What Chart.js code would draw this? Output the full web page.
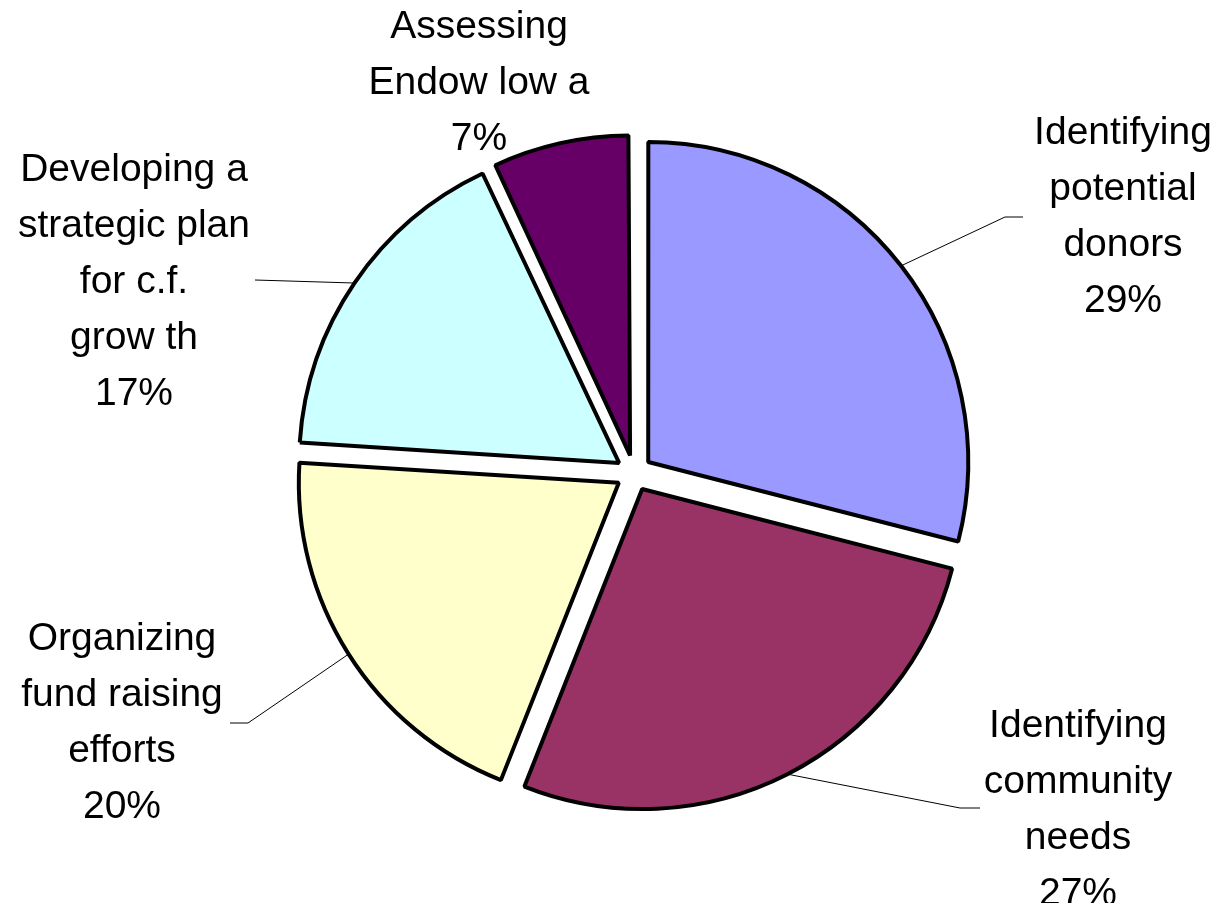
<!DOCTYPE html>
<html>
<head>
<meta charset="utf-8">
<script src="https://cdn.jsdelivr.net/npm/chart.js@4.4.1/dist/chart.umd.min.js"></script>
<style>
  html, body { margin: 0; padding: 0; background: #fff; }
  #wrap { width: 1215px; height: 903px; position: relative; }
</style>
</head>
<body>
<div id="wrap"><canvas id="chart-pie"></canvas></div>
<script>
// Slices, clockwise from 12 o'clock
const categories = [
  "Identifying potential donors",
  "Identifying community needs",
  "Organizing fund raising efforts",
  "Developing a strategic plan for c.f. growth",
  "Assessing Endow low a",
];
const shares = [29, 27, 20, 17, 7];
const sliceColors = ["#9999FF", "#993366", "#FFFFCC", "#CCFFFF", "#660066"];

// Label text as drawn on the chart (the percentage line is added from shares)
const labelLines = [
  ["Identifying", "potential", "donors"],
  ["Identifying", "community", "needs"],
  ["Organizing", "fund raising", "efforts"],
  ["Developing a", "strategic plan", "for c.f.", "grow th"],
  ["Assessing", "Endow low a"],
];

// Label placement: centre x, baseline of the last line, leader elbow + end (null = no leader)
const labelLayout = [
  { x: 1123, y: 312, leader: [[1005, 217], [1023, 217]] },
  { x: 1078, y: 905, leader: [[960, 808], [980, 808]] },
  { x: 122, y: 818, leader: [[248, 723], [230, 723]] },
  { x: 134, y: 405, leader: [[255, 280]] },
  { x: 479, y: 150, leader: null },
];

const LINE_GAP = 56;
const EXPLODE = 72; // Chart.js moves a slice by offset / 4

// v4 grows narrow slices when offset is set; keep every slice on the same radius
const equalRadius = {
  id: "equalRadius",
  beforeDatasetsDraw(chart) {
    const meta = chart.getDatasetMeta(0);
    const baseR = meta.controller.outerRadius;
    meta.data.forEach((arc) => {
      const off = (arc.options.offset || 0) / 4;
      const fix = 1 - Math.sin(Math.min(Math.PI, arc.circumference || 0));
      arc.outerRadius = baseR - off * fix;
    });
  },
};

const sliceLabels = {
  id: "sliceLabels",
  afterDatasetsDraw(chart) {
    const { ctx } = chart;
    const meta = chart.getDatasetMeta(0);
    const baseR = meta.controller.outerRadius;
    ctx.save();
    meta.data.forEach((arc, i) => {
      const lay = labelLayout[i];
      const mid = (arc.startAngle + arc.endAngle) / 2;
      const off = (arc.options.offset || 0) / 4;

      // leader line from the slice edge at its mid angle
      if (lay.leader) {
        ctx.beginPath();
        ctx.moveTo(arc.x + Math.cos(mid) * (off + baseR), arc.y + Math.sin(mid) * (off + baseR));
        lay.leader.forEach(([px, py]) => ctx.lineTo(px, py));
        ctx.strokeStyle = "#000";
        ctx.lineWidth = 1;
        ctx.stroke();
      }

      const lines = [...labelLines[i], shares[i] + "%"];
      ctx.font = "39px 'Liberation Sans', Arial, sans-serif";
      ctx.fillStyle = "#000";
      ctx.textAlign = "center";
      ctx.textBaseline = "alphabetic";
      lines.forEach((t, k) => {
        ctx.fillText(t, lay.x, lay.y - (lines.length - 1 - k) * LINE_GAP);
      });
    });
    ctx.restore();
  },
};

new Chart(document.getElementById("chart-pie"), {
  type: "pie",
  data: {
    labels: categories,
    datasets: [{
      data: shares,
      backgroundColor: sliceColors,
      borderColor: "#000",
      borderWidth: 4,
      offset: EXPLODE,
      hoverOffset: 0,
    }],
  },
  options: {
    responsive: true,
    maintainAspectRatio: false,
    animation: false,
    radius: 320,
    layout: { padding: { left: 53, top: 43, right: 0, bottom: 0 } },
    plugins: {
      legend: { display: false },
      tooltip: { enabled: false },
    },
    events: [],
  },
  plugins: [equalRadius, sliceLabels],
});
</script>
</body>
</html>
